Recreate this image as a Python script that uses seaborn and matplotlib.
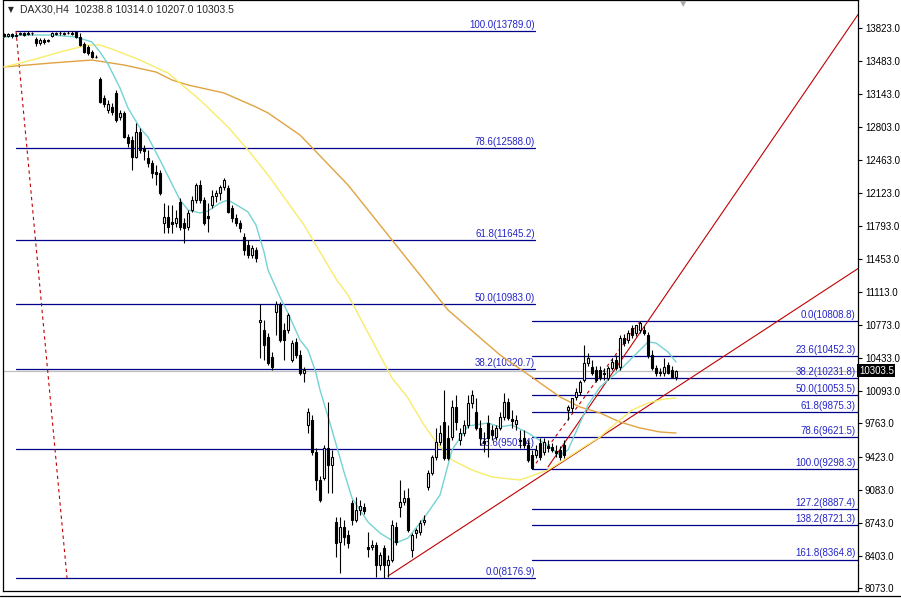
import matplotlib
matplotlib.use("Agg")
import matplotlib.pyplot as plt
from matplotlib.lines import Line2D
import numpy as np
import pandas as pd
import seaborn as sns

# DAX30 H4 candles
opens = [13758, 13738, 13758, 13738, 13758, 13768, 13758, 13768, 13707, 13666,
         13697, 13686, 13738, 13758, 13768, 13758, 13768, 13758, 13779, 13727,
         13656, 13625, 13573, 13522, 13296, 13101, 12978, 13009, 13153, 12907,
         12948, 12701, 12671, 12496, 12753, 12589, 12486, 12435, 12342, 12332,
         11819, 11881, 11829, 11819, 12034, 11819, 11778, 11952, 12055, 12209,
         12055, 11891, 12004, 12096, 12127, 12188, 12178, 11973, 11870, 11819,
         11675, 11593, 11491, 11542, 10803, 10721, 10649, 10444, 10906, 10988,
         10721, 10721, 10413, 10598, 10465, 10280, 9747, 9798, 9469, 9182,
         9203, 9510, 9336, 8751, 8546, 8700, 8618, 8946, 8772, 8874,
         8905, 8495, 8495, 8515, 8310, 8484, 8310, 8361, 8700, 8905,
         8956, 8997, 8464, 8638, 8649, 8751, 9110, 9254, 9418, 9572,
         9777, 9613, 9623, 9931, 9593, 9664, 9747, 9972, 9880, 9716,
         9582, 9767, 9695, 9623, 9716, 9829, 9982, 9808, 9757, 9593,
         9613, 9541, 9439, 9439, 9562, 9469, 9531, 9521, 9480, 9490,
         9541, 9900, 9921, 10034, 10085, 10208, 10383, 10342, 10311, 10311,
         10280, 10229, 10331, 10413, 10342, 10639, 10619, 10742, 10690, 10721,
         10721, 10670, 10465, 10331, 10290, 10280, 10362, 10311, 10238.8]
highs = [13768, 13768, 13768, 13768, 13779, 13779, 13789, 13779, 13727, 13717,
         13717, 13707, 13779, 13779, 13789, 13779, 13789, 13789, 13789, 13768,
         13676, 13645, 13594, 13543, 13317, 13132, 13081, 13050, 13184, 12978,
         12968, 12732, 12712, 12845, 12794, 12619, 12568, 12465, 12414, 12363,
         12024, 12004, 12004, 11952, 12075, 11870, 11952, 12096, 12229, 12260,
         12086, 12024, 12158, 12158, 12209, 12281, 12209, 12004, 11911, 11850,
         11716, 11645, 11593, 11573, 10988, 10824, 10690, 10496, 11019, 11009,
         10793, 10896, 10619, 10639, 10516, 10342, 9921, 9849, 9510, 9223,
         9541, 9982, 9490, 8803, 8803, 8772, 8669, 8977, 9008, 8977,
         8946, 8649, 8567, 8546, 8444, 8515, 8413, 8772, 8751, 9182,
         9080, 9100, 8638, 8690, 8772, 8823, 9285, 9439, 9716, 9747,
         10106, 9747, 10003, 10054, 9716, 9798, 10054, 10106, 10023, 9798,
         9675, 9849, 9747, 9747, 9880, 10075, 10023, 9900, 9849, 9695,
         9695, 9593, 9490, 9541, 9613, 9613, 9593, 9562, 9541, 9531,
         9593, 9952, 10023, 10126, 10208, 10567, 10485, 10413, 10352, 10352,
         10331, 10352, 10434, 10465, 10670, 10680, 10721, 10772, 10772, 10808.8,
         10762, 10701, 10516, 10362, 10331, 10434, 10393, 10352, 10314.0]
lows = [13727, 13727, 13717, 13727, 13748, 13738, 13748, 13748, 13635, 13645,
        13656, 13676, 13727, 13748, 13748, 13748, 13758, 13748, 13717, 13635,
        13563, 13543, 13512, 13512, 13050, 13009, 12948, 12927, 12855, 12876,
        12691, 12599, 12363, 12486, 12537, 12465, 12394, 12281, 12209, 12106,
        11716, 11716, 11716, 11778, 11747, 11614, 11747, 11932, 12024, 12024,
        11799, 11727, 11973, 12034, 12055, 12158, 11922, 11829, 11788, 11727,
        11491, 11460, 11460, 11419, 10434, 10413, 10362, 10311, 10670, 10598,
        10413, 10690, 10393, 10434, 10260, 10188, 9664, 9439, 9080, 8956,
        9182, 9049, 9049, 8392, 8228, 8515, 8484, 8720, 8751, 8823,
        8833, 8392, 8464, 8187, 8259, 8177, 8187, 8341, 8515, 8803,
        8926, 8649, 8392, 8587, 8618, 8720, 9080, 9234, 9387, 9541,
        9387, 9387, 9593, 9695, 9541, 9634, 9716, 9921, 9695, 9541,
        9469, 9418, 9593, 9593, 9695, 9798, 9798, 9716, 9695, 9510,
        9510, 9367, 9298.3, 9408, 9387, 9439, 9469, 9469, 9418, 9387,
        9408, 9798, 9880, 10003, 10054, 10188, 10352, 10260, 10188, 10208,
        10208, 10208, 10311, 10311, 10311, 10557, 10588, 10639, 10660, 10690,
        10670, 10434, 10311, 10249, 10249, 10249, 10270, 10229, 10207.0]
closes = [13738, 13758, 13738, 13748, 13768, 13748, 13768, 13766, 13666, 13697,
          13676, 13697, 13768, 13768, 13770, 13768, 13770, 13768, 13727, 13645,
          13573, 13563, 13522, 13520, 13060, 13040, 13040, 12958, 12876, 12948,
          12701, 12640, 12496, 12753, 12568, 12558, 12435, 12332, 12322, 12127,
          11881, 11778, 11809, 11870, 11778, 11768, 11922, 12055, 12209, 12055,
          11819, 11870, 12096, 12127, 12188, 12260, 11932, 11870, 11819, 11768,
          11542, 11491, 11563, 11460, 10824, 10567, 10383, 10342, 10988, 10619,
          10619, 10875, 10588, 10465, 10280, 10311, 9880, 9469, 9182, 8977,
          9510, 9336, 9418, 8536, 8700, 8597, 8536, 8772, 8874, 8915,
          8864, 8474, 8515, 8310, 8413, 8310, 8361, 8720, 8546, 8956,
          8997, 8669, 8618, 8669, 8741, 8772, 9254, 9418, 9572, 9664,
          9408, 9408, 9931, 9777, 9664, 9747, 9972, 10054, 9716, 9613,
          9562, 9613, 9644, 9716, 9829, 9982, 9818, 9787, 9798, 9582,
          9541, 9387, 9305, 9490, 9418, 9572, 9510, 9490, 9459, 9418,
          9439, 9931, 10023, 10085, 10188, 10383, 10434, 10280, 10208, 10229,
          10270, 10331, 10393, 10331, 10639, 10588, 10690, 10670, 10772, 10793,
          10690, 10465, 10331, 10280, 10280, 10342, 10280, 10239, 10303.5]

# moving averages, sampled along the chart
fast_bars = [0, 5, 12, 18, 22, 24, 26, 29, 31, 34, 36, 39, 41, 44, 46, 49, 51, 54, 56, 59,
             61, 63, 65, 66, 69, 71, 74, 76, 78, 79, 82, 85, 87, 91, 94, 98, 101, 105, 109,
             112, 116, 121, 124, 127, 131, 135, 139, 141, 144, 146, 149, 151, 154, 156, 159,
             161, 163, 166, 168]
fast_ma = [13727, 13748, 13748, 13727, 13676, 13573, 13450, 13204, 12999, 12794, 12701,
           12465, 12301, 12055, 11952, 11922, 11942, 12024, 12055, 11983, 11932, 11798,
           11522, 11337, 11060, 10896, 10619, 10516, 10280, 10106, 9695, 9264, 8998, 8751,
           8638, 8536, 8587, 8792, 9028, 9490, 9736, 9767, 9726, 9747, 9664, 9562, 9439,
           9490, 9767, 9952, 10136, 10208, 10311, 10393, 10516, 10598, 10588, 10496, 10393]
mid_bars = [0, 7, 14, 21, 24, 27, 34, 41, 49, 56, 61, 66, 75, 83, 86, 97, 101, 105, 108,
            112, 117, 122, 129, 136, 140, 145, 149, 153, 157, 161, 165, 168]
mid_ma = [13420, 13491, 13573, 13645, 13645, 13604, 13491, 13358, 13081, 12804, 12568,
          12312, 11799, 11245, 11080, 10229, 10023, 9747, 9572, 9387, 9285, 9213, 9182,
          9285, 9387, 9521, 9623, 9767, 9900, 9972, 10013, 10023]
slow_bars = [0, 12, 22, 30, 38, 42, 46, 55, 63, 66, 74, 86, 99, 111, 124, 133, 139, 144,
             149, 154, 159, 164, 168]
slow_ma = [13420, 13461, 13491, 13440, 13368, 13286, 13235, 13153, 13009, 12948, 12722,
           12209, 11542, 10926, 10465, 10208, 10034, 9931, 9870, 9777, 9716, 9675, 9664]

# fibonacci sets
left_fib_levels = ["100.0", "78.6", "61.8", "50.0", "38.2", "23.6", "0.0"]
left_fib_prices = [13789.0, 12588.0, 11645.2, 10983.0, 10320.7, 9501.4, 8176.9]
left_fib_span = [3, 132.75]
left_fib_anchor_bars = [3, 15.75]
right_fib_levels = ["0.0", "23.6", "38.2", "50.0", "61.8", "78.6", "100.0", "127.2", "138.2", "161.8"]
right_fib_prices = [10808.8, 10452.3, 10231.8, 10053.5, 9875.3, 9621.5, 9298.3, 8887.4, 8721.3, 8364.8]
right_fib_span = [132, 213.5]
right_fib_anchor_bars = [132, 159]

# trend lines (bar, price) anchors
lower_trend = [(96, 8197), (168, 10130)]
steep_trend = [(136, 9316), (164, 10993)]

y_ticks = [13823, 13483, 13143, 12803, 12463, 12123, 11793, 11453, 11113, 10773,
           10433, 10093, 9763, 9423, 9083, 8743, 8403, 8073]
last_price = 10303.5
header = "DAX30,H4  10238.8 10314.0 10207.0 10303.5"

sns.set_theme(style="white")
plt.rcParams["font.family"] = ["Liberation Sans", "DejaVu Sans"]

fig = plt.figure(figsize=(9.01, 5.98), dpi=100)
ax = fig.add_axes([3 / 901, 7 / 598, 855 / 901, 591 / 598])
x_max = 213.5
ax.set_xlim(-0.25, x_max)
ax.set_ylim(8043.3, 14107)

df = pd.DataFrame({"o": opens, "h": highs, "l": lows, "c": closes})
df["bar"] = np.arange(len(df))

# current price line
ax.axhline(last_price, color="#C0C0C0", lw=0.9, zorder=1)

# fibonacci levels
fib_line = "#00008C"
fib_text = "#2525C8"
for lev, p in zip(left_fib_levels, left_fib_prices):
    ax.plot(left_fib_span, [p, p], color=fib_line, lw=0.9, zorder=2)
    ax.text(left_fib_span[1], p + 12, f"{lev}({p:.1f})", ha="right", va="bottom",
            fontsize=7, color=fib_text, zorder=2)
for lev, p in zip(right_fib_levels, right_fib_prices):
    ax.plot(right_fib_span, [p, p], color=fib_line, lw=0.9, zorder=2)
    ax.text(right_fib_span[1] - 0.6, p + 12, f"{lev}({p:.1f})", ha="right", va="bottom",
            fontsize=7, color=fib_text, zorder=2)

red = "#C00000"
ax.plot(left_fib_anchor_bars, [left_fib_prices[0], left_fib_prices[-1]],
        color=red, lw=0.8, ls=(0, (3, 3)), zorder=2)
ax.plot(right_fib_anchor_bars, [right_fib_prices[-4], right_fib_prices[0]],
        color=red, lw=0.8, ls=(0, (3, 3)), zorder=2)

# trend rays
for (b0, p0), (b1, p1) in [lower_trend, steep_trend]:
    k = (p1 - p0) / (b1 - b0)
    ax.plot([b0, x_max], [p0, p0 + k * (x_max - b0)], color=red, lw=0.8, zorder=2)

# moving averages
sns.lineplot(x=slow_bars, y=slow_ma, ax=ax, color="#E0A341", lw=1, zorder=3)
sns.lineplot(x=mid_bars, y=mid_ma, ax=ax, color="#F8EC6A", lw=1, zorder=3)
sns.lineplot(x=fast_bars, y=fast_ma, ax=ax, color="#74D3D3", lw=1, zorder=3)

# candles
ax.vlines(df["bar"], df["l"], df["h"], color="black", lw=0.8, zorder=4)
up = df["c"] >= df["o"]
body_lo = df[["o", "c"]].min(axis=1)
body_h = (df["c"] - df["o"]).abs().clip(lower=4)
ax.bar(df["bar"][up], body_h[up], bottom=body_lo[up], width=0.5,
       color="white", edgecolor="black", lw=0.8, zorder=5)
ax.bar(df["bar"][~up], body_h[~up], bottom=body_lo[~up], width=0.5,
       color="black", edgecolor="black", lw=0.8, zorder=5)

# axis styling
ax.yaxis.tick_right()
ax.set_yticks(y_ticks)
ax.set_yticklabels([f"{t:.1f}" for t in y_ticks])
ax.tick_params(axis="y", direction="out", length=3, width=0.8, labelsize=7,
               pad=2, colors="black")
ax.set_xticks([])
for s in ax.spines.values():
    s.set_color("black")
    s.set_linewidth(0.9)

ax.text(1.001, last_price, f"{last_price:.1f}", transform=ax.get_yaxis_transform(),
        ha="left", va="center", fontsize=7, color="white", clip_on=False, zorder=10,
        bbox=dict(boxstyle="square,pad=0.18", fc="black", ec="black", lw=0))

fig.text(8 / 901, 1 - 10 / 598, "▼", fontsize=5.5, ha="left", va="center",
         family=["DejaVu Sans"])
fig.text(20 / 901, 1 - 10 / 598, header, fontsize=7.5, ha="left", va="center")
fig.text(683 / 901, 1 - 4 / 598, "▼", fontsize=6, color="#A8A8A8", ha="center",
         va="center", family=["DejaVu Sans"])
fig.add_artist(Line2D([0, 1], [2 / 598, 2 / 598], transform=fig.transFigure,
                      color="black", lw=0.9))

fig.savefig("out.png", dpi=100)
